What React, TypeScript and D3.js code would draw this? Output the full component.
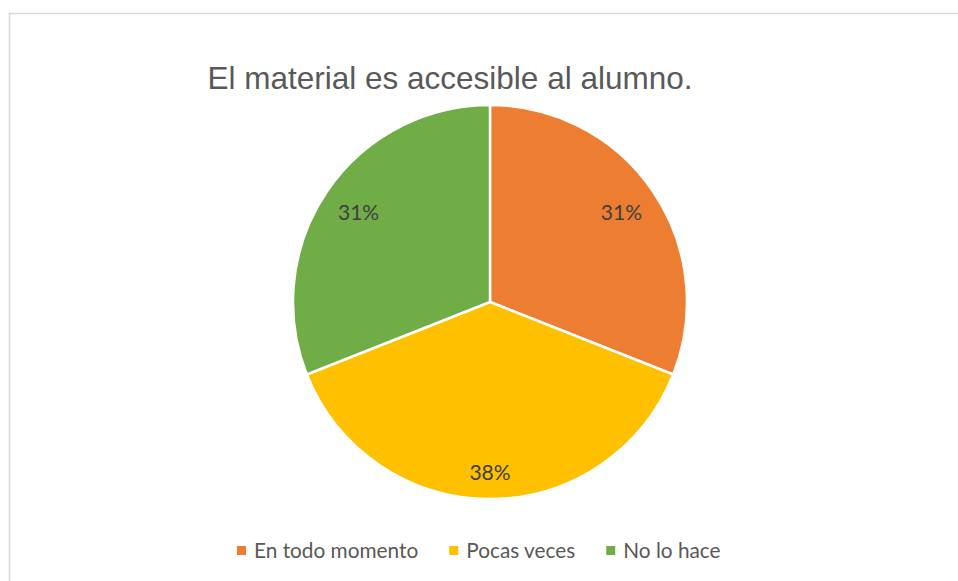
import React, { useEffect, useRef } from "react";
import * as d3 from "d3";

const categories = ["En todo momento", "Pocas veces", "No lo hace"];
const values = [31, 38, 31];
const colors = ["#ED7D31", "#FFC000", "#70AD47"];
const title = "El material es accesible al alumno.";

const W = 958;
const H = 581;

export default function App() {
  const legendRef = useRef<SVGGElement | null>(null);

  const cx = 490;
  const cy = 302;
  const R = 197;

  const pie = d3.pie<number>().sort(null).value((d) => d);
  const arcs = pie(values);
  const arc = d3.arc<d3.PieArcDatum<number>>().innerRadius(0).outerRadius(R);
  const total = d3.sum(values);

  const labelW = 42;
  const labelH = 24;
  const margin = 14;
  const labelPos = (a: d3.PieArcDatum<number>) => {
    const m = (a.startAngle + a.endAngle) / 2;
    const s = Math.sin(m);
    const c = Math.cos(m);
    const ext = Math.abs((labelW / 2) * s) + Math.abs((labelH / 2) * c);
    const r = R - margin - ext;
    return [cx + r * s, cy - r * c];
  };

  useEffect(() => {
    const g = d3.select(legendRef.current);
    let x = 237;
    g.selectAll<SVGGElement, unknown>("g.item").each(function () {
      const item = d3.select(this);
      const t = item.select<SVGTextElement>("text").node()!;
      const w = t.getComputedTextLength();
      item.attr("transform", `translate(${x},0)`);
      x += 17 + w + 31;
    });
  }, []);

  return (
    <svg
      width={W}
      height={H}
      style={{ position: "absolute", left: 0, top: 0, display: "block", background: "#fff" }}
    >
      <rect x={9.5} y={13.5} width={W + 20} height={H + 20} fill="#fff" stroke="#d9d9d9" strokeWidth={1.5} />
      <text
        x={450}
        y={89}
        textAnchor="middle"
        fontFamily="'Liberation Sans', Arial, sans-serif"
        fontSize={31.5}
        fill="#595959"
      >
        {title}
      </text>
      <g>
        {arcs.map((a, i) => (
          <path
            key={i}
            d={arc(a) || ""}
            transform={`translate(${cx},${cy})`}
            fill={colors[i]}
            stroke="#fff"
            strokeWidth={2.5}
            strokeLinejoin="round"
          />
        ))}
      </g>
      <g>
        {arcs.map((a, i) => {
          const [lx, ly] = labelPos(a);
          return (
            <text
              key={i}
              x={lx}
              y={ly}
              dy="0.35em"
              textAnchor="middle"
              fontFamily="Lato, 'Open Sans', sans-serif"
              fontSize={21}
              fill="#404040"
            >
              {`${Math.round((a.data / total) * 100)}%`}
            </text>
          );
        })}
      </g>
      <g ref={legendRef} transform="translate(0,551)">
        {categories.map((c, i) => (
          <g className="item" key={c}>
            <rect x={0} y={-5} width={9} height={9} fill={colors[i]} />
            <text x={17} y={0} dy="0.35em" fontFamily="Lato, 'Open Sans', sans-serif" fontSize={20.8} fill="#595959">
              {c}
            </text>
          </g>
        ))}
      </g>
    </svg>
  );
}
